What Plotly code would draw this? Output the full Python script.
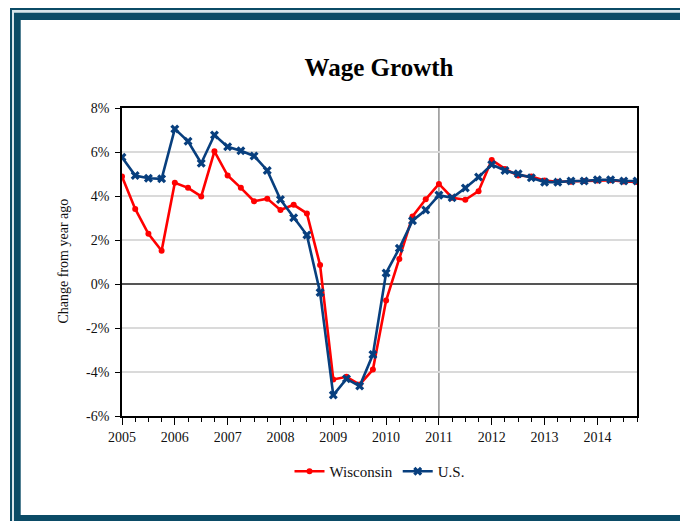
import plotly.graph_objects as go

# Year-over-year wage growth, quarterly, 2005 Q1 - 2014 Q4 (percent)
quarters = [2005 + q / 4 for q in range(40)]

wisconsin = [
    4.89, 3.41, 2.28, 1.51,
    4.60, 4.37, 3.98, 6.03,
    4.93, 4.37, 3.76, 3.88,
    3.36, 3.60, 3.21, 0.86,
    -4.34, -4.22, -4.57, -3.89,
    -0.75, 1.14, 3.07, 3.85,
    4.55, 3.92, 3.83, 4.22,
    5.64, 5.23, 4.93, 4.89,
    4.70, 4.65, 4.65, 4.68,
    4.70, 4.72, 4.66, 4.64,
]

us = [
    5.76, 4.93, 4.81, 4.78,
    7.05, 6.49, 5.49, 6.77,
    6.24, 6.06, 5.82, 5.16,
    3.84, 3.01, 2.23, -0.39,
    -5.05, -4.31, -4.64, -3.21,
    0.50, 1.62, 2.88, 3.36,
    4.04, 3.92, 4.36, 4.86,
    5.43, 5.16, 5.01, 4.83,
    4.63, 4.63, 4.68, 4.68,
    4.74, 4.74, 4.68, 4.68,
]

year_ticks = list(range(2005, 2015))
pct_ticks = [-6, -4, -2, 0, 2, 4, 6, 8]
pct_labels = ["-6%", "-4%", "-2%", "0%", "2%", "4%", "6%", "8%"]

W, H = 680, 521
ML, MR, MT, MB = 122, 43, 108, 105
PW, PH = W - ML - MR, H - MT - MB

def px(x):
    return (x - ML) / PW

def py(y):
    return (H - MB - y) / PH

SERIF = "Liberation Serif, Times New Roman, serif"
DARK = "#0b4b66"
LIGHT = "#d8e4ea"

fig = go.Figure()

fig.add_trace(go.Scatter(
    x=quarters, y=wisconsin, name="Wisconsin", mode="lines+markers",
    line=dict(color="#ff0000", width=2.6),
    marker=dict(symbol="circle", size=6, color="#ff0000"),
))
fig.add_trace(go.Scatter(
    x=quarters, y=us, name="U.S.", mode="lines+markers",
    line=dict(color="#083f7e", width=2.6),
    marker=dict(symbol="x", size=8, color="#083f7e"),
))

# Decorative frame around the whole chart
frame = [
    (10, 8, DARK),
    (12, 10, LIGHT),
    (14, 12.7, DARK),
]
shapes = []
for x0, y0, col in frame:
    shapes.append(dict(type="rect", xref="paper", yref="paper", layer="below",
                       x0=px(x0), x1=px(720), y0=py(560), y1=py(y0),
                       fillcolor=col, line=dict(width=0)))
shapes.append(dict(type="rect", xref="paper", yref="paper", layer="below",
                   x0=px(20.7), x1=px(720), y0=py(515), y1=py(20),
                   fillcolor="white", line=dict(width=0)))
# Marker separating history from forecast
shapes.append(dict(type="line", xref="x", yref="paper", layer="below",
                   x0=2011, x1=2011, y0=0, y1=1,
                   line=dict(color="#808080", width=1.3)))

fig.update_layout(
    width=W, height=H,
    margin=dict(l=ML, r=MR, t=MT, b=MB),
    paper_bgcolor="white",
    plot_bgcolor="rgba(0,0,0,0)",
    font=dict(family=SERIF, size=14, color="#111111"),
    title=dict(text="<b>Wage Growth</b>", x=px(379), xref="paper", xanchor="center",
               y=1 - 67 / H, yanchor="middle",
               font=dict(family=SERIF, size=25, color="#000000")),
    shapes=shapes,
    showlegend=True,
    legend=dict(orientation="h", x=0.5, xanchor="center", y=py(471.5), yanchor="middle",
                font=dict(family=SERIF, size=15, color="#111111"),
                bgcolor="rgba(0,0,0,0)", traceorder="normal"),
    annotations=[dict(text="Change from year ago", textangle=-90,
                      xref="paper", yref="paper", x=px(62.5), y=py(261),
                      xanchor="center", yanchor="middle", showarrow=False,
                      font=dict(family=SERIF, size=14, color="#111111"))],
)

fig.update_xaxes(
    range=[2005, 2014.75], tickvals=year_ticks, ticktext=[str(y) for y in year_ticks],
    ticks="outside", ticklen=7, tickwidth=1.2, tickcolor="#000000",
    minor=dict(dtick=0.25, tick0=2005, ticks="outside", ticklen=4, tickwidth=1.2,
               tickcolor="#000000", showgrid=False),
    showgrid=False, zeroline=False,
    showline=True, linecolor="#000000", linewidth=1.6, mirror=True,
    tickfont=dict(family=SERIF, size=14, color="#111111"),
)
fig.update_yaxes(
    range=[-6, 8], tickvals=pct_ticks, ticktext=pct_labels,
    ticks="outside", ticklen=5, tickwidth=1.2, tickcolor="#000000",
    ticklabelstandoff=3,
    showgrid=True, gridcolor="#dadada", gridwidth=1.6,
    zeroline=True, zerolinecolor="#555555", zerolinewidth=1.6,
    showline=True, linecolor="#000000", linewidth=1.6, mirror=True,
    tickfont=dict(family=SERIF, size=14, color="#111111"),
)

fig.write_html("out.html")
